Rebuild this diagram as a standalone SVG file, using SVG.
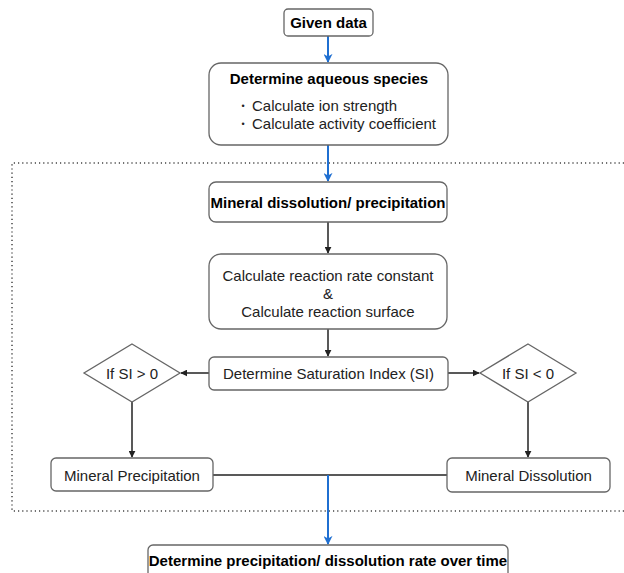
<svg xmlns="http://www.w3.org/2000/svg" width="624" height="573" viewBox="0 0 624 573">
<defs>
<style>
.box{fill:#fff;stroke:#666;stroke-width:1.3}
.t{font-family:"Liberation Sans",Arial,sans-serif;font-size:15px;fill:#222;text-anchor:middle}
.b{font-weight:bold;fill:#000}
.c{fill:none;stroke:#222;stroke-width:1.5}
.cb{fill:none;stroke:#1f6fd1;stroke-width:2}
.dot{fill:none;stroke:#444;stroke-width:1.5;stroke-dasharray:1.2 3}
</style>
<marker id="ak" viewBox="0 0 10 10" refX="9" refY="5" markerWidth="7" markerHeight="7" markerUnits="userSpaceOnUse" orient="auto"><path d="M0,0 L10,5 L0,10 z" fill="#222"/></marker>
<marker id="ab" viewBox="0 0 10 10" refX="9" refY="5" markerWidth="9" markerHeight="9" markerUnits="userSpaceOnUse" orient="auto"><path d="M0,0 L10,5 L0,10 L3,5 z" fill="#1f6fd1"/></marker>
</defs>
<rect width="624" height="573" fill="#fff"/>
<path class="dot" d="M624,163 H12 V511 H624"/>
<g id="connectors">
<line class="cb" x1="328" y1="36" x2="328" y2="62" marker-end="url(#ab)"/>
<line class="cb" x1="328" y1="145" x2="328" y2="181" marker-end="url(#ab)"/>
<line class="c" x1="328" y1="222" x2="328" y2="253" marker-end="url(#ak)"/>
<line class="c" x1="328" y1="329" x2="328" y2="356" marker-end="url(#ak)"/>
<line class="c" x1="209" y1="373" x2="181" y2="373" marker-end="url(#ak)"/>
<line class="c" x1="448" y1="373" x2="479" y2="373" marker-end="url(#ak)"/>
<line class="c" x1="132" y1="402" x2="132" y2="457" marker-end="url(#ak)"/>
<line class="c" x1="528" y1="402" x2="528" y2="457" marker-end="url(#ak)"/>
<line class="c" x1="213" y1="475" x2="447" y2="475"/>
<line class="cb" x1="328" y1="475" x2="328" y2="544" marker-end="url(#ab)"/>
</g>
<g id="given">
<rect class="box" x="284" y="9" width="89" height="27" rx="4"/>
<text class="t b" x="328.5" y="28">Given data</text>
</g>
<g id="aqueous">
<rect class="box" x="209" y="63" width="239" height="82" rx="12"/>
<text class="t b" x="329" y="83.5">Determine aqueous species</text>
<text class="t" x="243" y="109" style="font-size:9px">•</text>
<text class="t" x="252" y="110.5" style="text-anchor:start">Calculate ion strength</text>
<text class="t" x="243" y="127" style="font-size:9px">•</text>
<text class="t" x="252" y="128.5" style="text-anchor:start">Calculate activity coefficient</text>
</g>
<g id="mineral">
<rect class="box" x="209" y="182" width="238" height="40" rx="7"/>
<text class="t b" x="328" y="207.5">Mineral dissolution/ precipitation</text>
</g>
<g id="calc">
<rect class="box" x="209" y="254" width="238" height="75" rx="12"/>
<text class="t" x="328" y="280.5">Calculate reaction rate constant</text>
<text class="t" x="328" y="298.5">&amp;</text>
<text class="t" x="328" y="316.5">Calculate reaction surface</text>
</g>
<g id="si">
<rect class="box" x="209" y="357" width="239" height="33" rx="5"/>
<text class="t" x="328.5" y="378.5">Determine Saturation Index (SI)</text>
</g>
<g id="d1">
<polygon class="box" points="132,344 180,373 132,402 84,373"/>
<text class="t" x="132" y="378.5">If SI &gt; 0</text>
</g>
<g id="d2">
<polygon class="box" points="528,344 576,373 528,402 480,373"/>
<text class="t" x="528" y="378.5">If SI &lt; 0</text>
</g>
<g id="precip">
<rect class="box" x="51" y="458" width="162" height="33" rx="5"/>
<text class="t" x="132" y="480.5">Mineral Precipitation</text>
</g>
<g id="dissol">
<rect class="box" x="447" y="458" width="163" height="34" rx="5"/>
<text class="t" x="528.5" y="480.5">Mineral Dissolution</text>
</g>
<g id="rate">
<rect class="box" x="148" y="545" width="360" height="40" rx="5"/>
<text class="t b" x="328" y="565.5">Determine precipitation/ dissolution rate over time</text>
</g>
</svg>
